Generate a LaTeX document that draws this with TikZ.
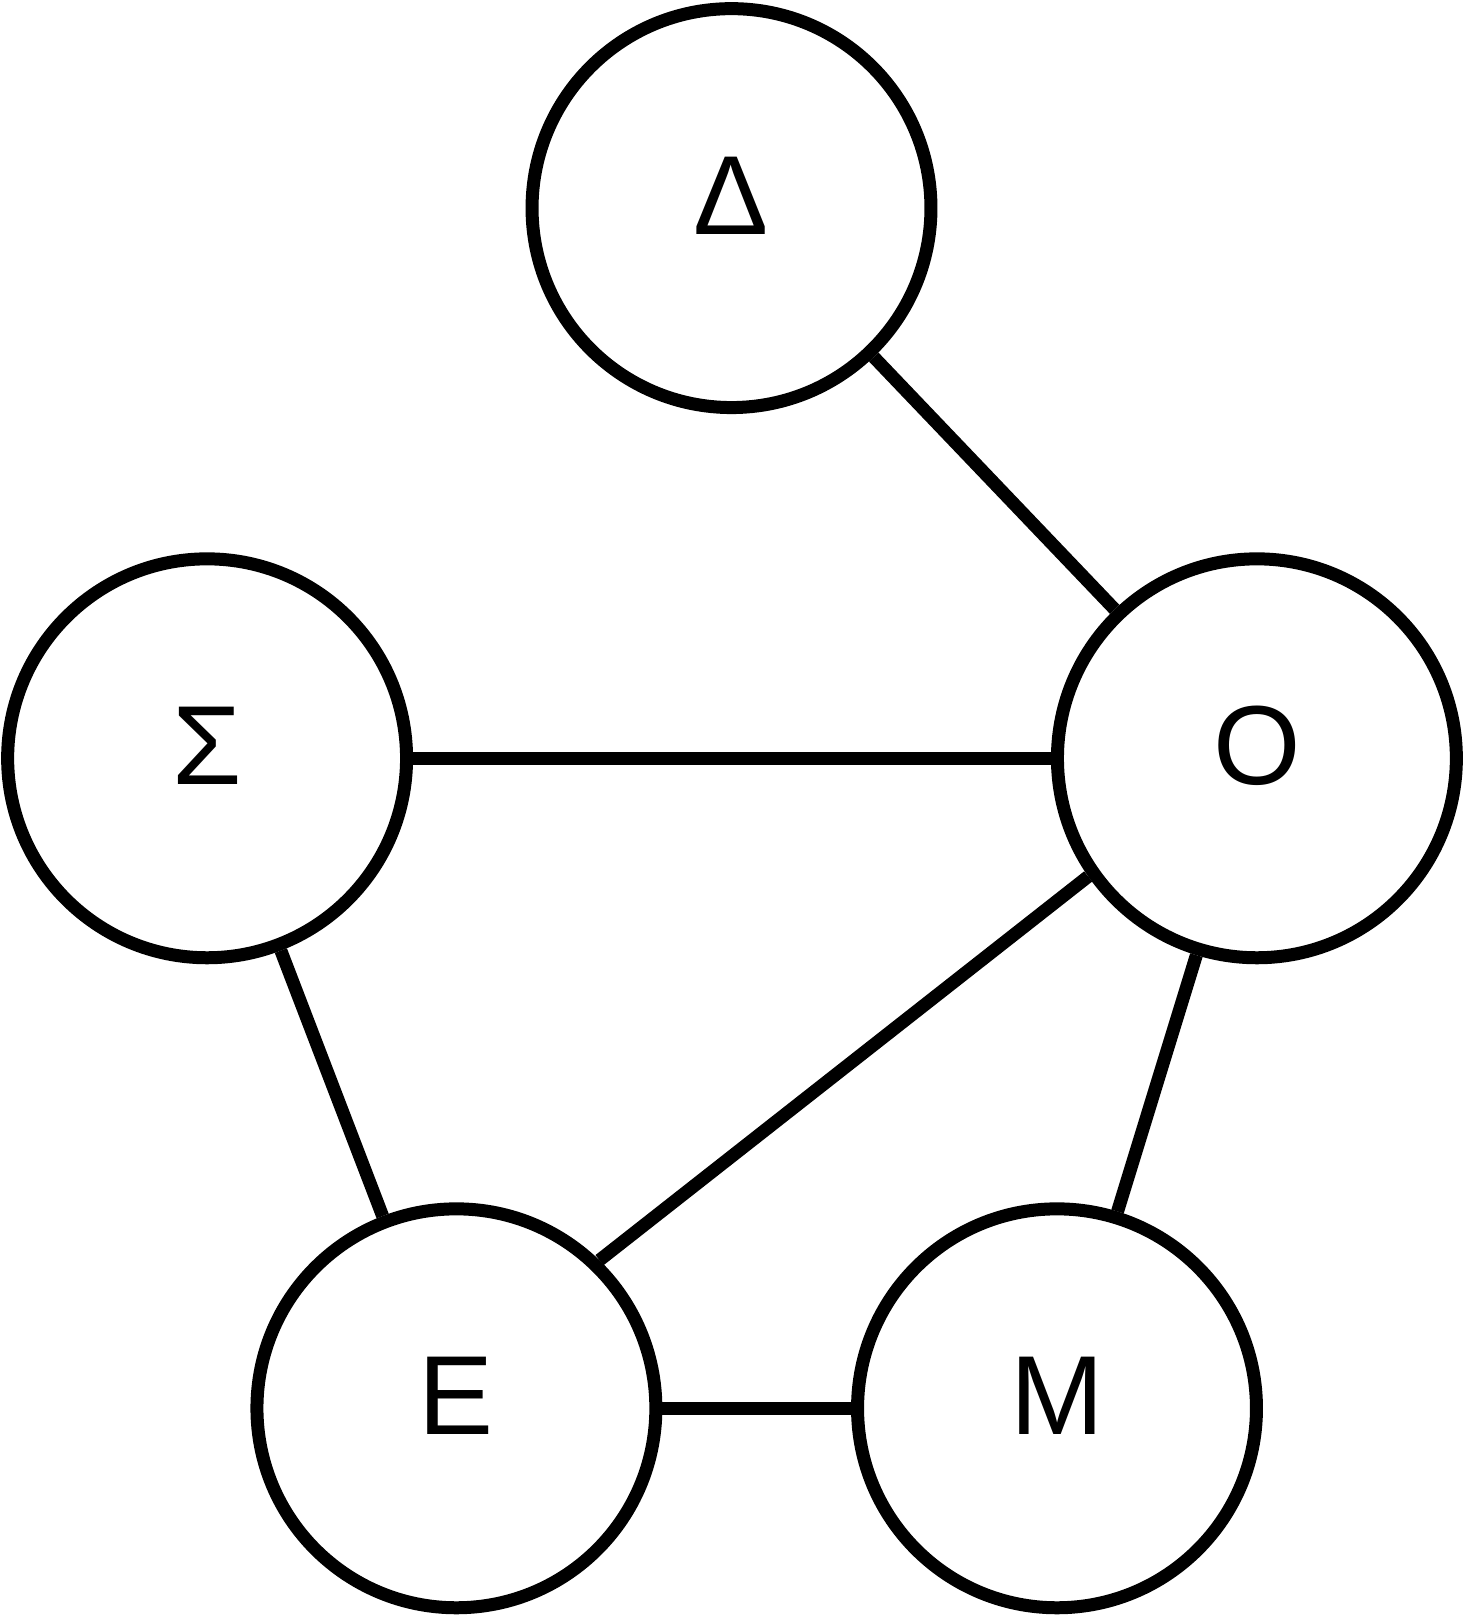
\documentclass[tikz,border=0pt]{standalone}
\usepackage{fontspec}
\setmainfont{Liberation Sans}
\begin{document}
\begin{tikzpicture}[x=0.02cm, y=-0.02cm,
    letterbox/.style={circle, draw=black, line width=0.26cm, inner sep=0pt,
                      minimum size=7.98cm, text height=45pt, text depth=15pt,
                      font=\fontsize{64}{70}\selectfont},
    link/.style={line width=0.26cm, draw=black}
]
    \useasboundingbox (0,0) rectangle (1465,1615);

    \node[letterbox] (delta) at (731.5,208.1) {Δ};
    \node[letterbox] (sigma) at (207.1,758.3) {Σ};
    \node[letterbox] (omicron) at (1256.9,758.3) {Ο};
    \node[letterbox] (epsilon) at (456.4,1408.3) {Ε};
    \node[letterbox] (mu) at (1057.0,1408.3) {Μ};

    \draw[link] (delta) -- (omicron);
    \draw[link] (sigma) -- (omicron);
    \draw[link] (sigma) -- (epsilon);
    \draw[link] (epsilon.46) -- (omicron.215);
    \draw[link] (epsilon) -- (mu);
    \draw[link] (omicron) -- (mu);
\end{tikzpicture}
\end{document}
